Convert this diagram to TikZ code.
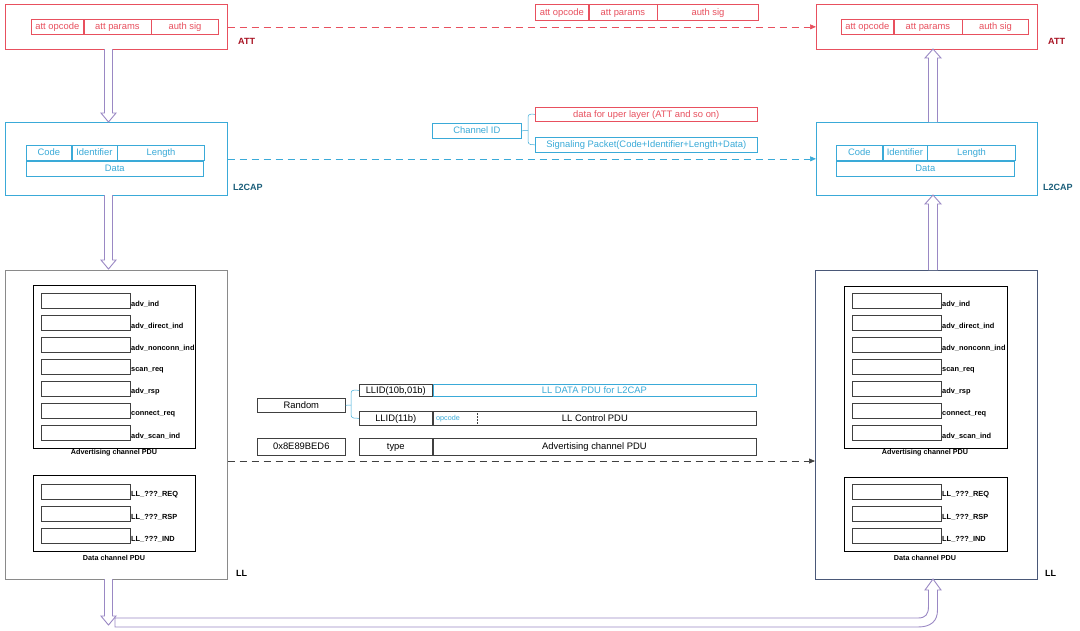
\documentclass[tikz,border=0pt]{standalone}
\usepackage{fontspec}
\setmainfont{Liberation Sans}
\usetikzlibrary{calc,arrows.meta}
\definecolor{attred}{HTML}{E8505E}
\definecolor{attlab}{HTML}{A81020}
\definecolor{l2blue}{HTML}{3AAAD8}
\definecolor{l2lab}{HTML}{1A5E7A}
\definecolor{arrp}{HTML}{9A88C4}
\definecolor{llgrey}{HTML}{8A8A8A}
\definecolor{llnavy}{HTML}{4A5878}
\definecolor{cellk}{HTML}{404040}
\newcommand{\hdown}[2]{\draw[hollow] let \p1=(#1),\p2=(#2) in ({\x1-4pt},{\y1}) -- ({\x1-4pt},{\y2+9pt}) -- ({\x1-7.5pt},{\y2+9pt}) -- (\x2,\y2) -- ({\x1+7.5pt},{\y2+9pt}) -- ({\x1+4pt},{\y2+9pt}) -- ({\x1+4pt},{\y1});}
\newcommand{\hup}[2]{\draw[hollow] let \p1=(#1),\p2=(#2) in ({\x1-4.5pt},{\y1}) -- ({\x1-4.5pt},{\y2-9pt}) -- ({\x1-8pt},{\y2-9pt}) -- (\x2,\y2) -- ({\x1+8pt},{\y2-9pt}) -- ({\x1+4.5pt},{\y2-9pt}) -- ({\x1+4.5pt},{\y1});}
\begin{document}
\begin{tikzpicture}[x=1pt,y=-1pt,
  box/.style={draw, rectangle, anchor=north west, inner sep=0pt, line width=0.7pt},
  cell/.style={draw, rectangle, anchor=north west, inner sep=0pt, line width=0.6pt, text height=6pt, text depth=0pt, font=\fontsize{9.4}{10}\selectfont},
  redcell/.style={cell, draw=attred, text=attred},
  bluecell/.style={cell, draw=l2blue, text=l2blue},
  blkcell/.style={cell, draw=cellk, text=black},
  pdubox/.style={draw=black, line width=1.3pt, rectangle, anchor=north west, inner sep=0pt},
  slot/.style={draw=cellk, line width=0.5pt, rectangle, anchor=north west, inner sep=0pt, minimum width=89pt, minimum height=15pt},
  slotlab/.style={anchor=west, inner sep=0pt, font=\bfseries\fontsize{7.4}{8}\selectfont},
  pdulab/.style={inner sep=0pt, font=\bfseries\fontsize{7.2}{8}\selectfont},
  layerlab/.style={anchor=west, inner sep=0pt, font=\bfseries\fontsize{9}{10}\selectfont},
  hollow/.style={draw=arrp, line width=0.9pt, fill=white, line join=miter},
  dashln/.style={dash pattern=on 7pt off 5pt, line width=0.7pt}
]
\useasboundingbox (0,0) rectangle (1080,630);
\fill[white] (0,0) rectangle (1080,630);

% ---------- ATT ----------
\node[box, draw=attred, minimum width=222pt, minimum height=45pt] (attL) at (5,4) {};
\node[redcell, minimum width=52pt, minimum height=15pt] (aL1) at (31,19) {att opcode};
\node[redcell, minimum width=67pt, minimum height=15pt] (aL2) at (aL1.north east) {att params};
\node[redcell, minimum width=67pt, minimum height=15pt] (aL3) at (aL2.north east) {auth sig};
\node[layerlab, text=attlab] (attLab1) at (238,41) {ATT};

\node[redcell, minimum width=53pt, minimum height=16pt] (aM1) at (535,4) {att opcode};
\node[redcell, minimum width=68pt, minimum height=16pt] (aM2) at (aM1.north east) {att params};
\node[redcell, minimum width=101pt, minimum height=16pt] (aM3) at (aM2.north east) {auth sig};

\node[box, draw=attred, minimum width=221pt, minimum height=45pt] (attR) at (816,4) {};
\node[redcell, minimum width=52pt, minimum height=15pt] (aR1) at (841,19) {att opcode};
\node[redcell, minimum width=68pt, minimum height=15pt] (aR2) at (aR1.north east) {att params};
\node[redcell, minimum width=66pt, minimum height=15pt] (aR3) at (aR2.north east) {auth sig};
\node[layerlab, text=attlab] (attLab2) at (1048,41) {ATT};

\draw[dashln, attred, -{Triangle[length=6pt,width=5pt]}] (attL.east) -- (attR.west);

% ---------- L2CAP ----------
\node[box, draw=l2blue, minimum width=222pt, minimum height=73pt] (l2L) at (5,122) {};
\node[bluecell, minimum width=45pt, minimum height=15pt] (lL1) at (26,145) {Code};
\node[bluecell, minimum width=45pt, minimum height=15pt] (lL2) at (lL1.north east) {Identifier};
\node[bluecell, minimum width=87pt, minimum height=15pt] (lL3) at (lL2.north east) {Length};
\node[bluecell, minimum width=177pt, minimum height=15pt] (lL4) at (lL1.south west) {Data};
\node[layerlab, text=l2lab] (l2Lab1) at (233,187) {L2CAP};

\node[box, draw=l2blue, minimum width=221pt, minimum height=73pt] (l2R) at (816,122) {};
\node[bluecell, minimum width=46pt, minimum height=15pt] (lR1) at (836,145) {Code};
\node[bluecell, minimum width=44pt, minimum height=15pt] (lR2) at (lR1.north east) {Identifier};
\node[bluecell, minimum width=88pt, minimum height=15pt] (lR3) at (lR2.north east) {Length};
\node[bluecell, minimum width=178pt, minimum height=15pt] (lR4) at (lR1.south west) {Data};
\node[layerlab, text=l2lab] (l2Lab2) at (1043,187) {L2CAP};

\node[bluecell, minimum width=89pt, minimum height=15pt] (chid) at (432,123) {Channel ID};
\node[redcell, minimum width=222pt, minimum height=14pt] (upper) at (535,107) {data for uper layer (ATT and so on)};
\node[bluecell, minimum width=222pt, minimum height=15pt] (sig) at (535,137) {Signaling Packet(Code+Identifier+Length+Data)};
\draw[l2blue, line width=0.5pt, rounded corners=3pt] (upper.west) -- (528,114) -- (528,144.5) -- (sig.west);
\draw[l2blue, line width=0.5pt] (chid.east) -- (528,130.5);

\draw[dashln, l2blue, -{Triangle[length=6pt,width=5pt]}] (l2L.east) -- (l2R.west);

% ---------- LL left ----------
\node[box, draw=llgrey, minimum width=222pt, minimum height=309pt] (llL) at (5,270) {};
\node[pdubox, minimum width=162pt, minimum height=163pt] (advL) at (33,285) {};
\foreach \i/\t in {0/adv\_ind,1/adv\_direct\_ind,2/adv\_nonconn\_ind,3/scan\_req,4/adv\_rsp,5/connect\_req,6/adv\_scan\_ind}{
  \node[slot] (sL\i) at (41,{293+22*\i}) {};
  \node[slotlab] (sLt\i) at ({131},{304+22*\i}) {\t};
}
\node[pdulab] (advLt) at (114,453) {Advertising channel PDU};
\node[pdubox, minimum width=162pt, minimum height=76pt] (datL) at (33,475) {};
\foreach \i/\t in {0/LL\_???\_REQ,1/LL\_???\_RSP,2/LL\_???\_IND}{
  \node[slot] (dL\i) at (41,{484+22*\i}) {};
  \node[slotlab] (dLt\i) at (131,{495+22*\i}) {\t};
}
\node[pdulab] (datLt) at (114,558) {Data channel PDU};
\node[layerlab] (llLab1) at (236,573) {LL};

% ---------- LL right ----------
\node[box, draw=llnavy, minimum width=222pt, minimum height=309pt] (llR) at (815,270) {};
\node[pdubox, minimum width=163pt, minimum height=162pt] (advR) at (844,286) {};
\foreach \i/\t in {0/adv\_ind,1/adv\_direct\_ind,2/adv\_nonconn\_ind,3/scan\_req,4/adv\_rsp,5/connect\_req,6/adv\_scan\_ind}{
  \node[slot] (sR\i) at (852,{293+22*\i}) {};
  \node[slotlab] (sRt\i) at (942,{304+22*\i}) {\t};
}
\node[pdulab] (advRt) at (925,453) {Advertising channel PDU};
\node[pdubox, minimum width=163pt, minimum height=74pt] (datR) at (844,477) {};
\foreach \i/\t in {0/LL\_???\_REQ,1/LL\_???\_RSP,2/LL\_???\_IND}{
  \node[slot] (dR\i) at (852,{484+22*\i}) {};
  \node[slotlab] (dRt\i) at (942,{495+22*\i}) {\t};
}
\node[pdulab] (datRt) at (925,558) {Data channel PDU};
\node[layerlab] (llLab2) at (1045,573) {LL};

% ---------- LL middle ----------
\node[blkcell, minimum width=88pt, minimum height=14pt] (rnd) at (257,398) {Random};
\node[blkcell, minimum width=88pt, minimum height=17pt] (aa) at (257,438) {0x8E89BED6};
\node[blkcell, minimum width=73pt, minimum height=12pt] (llid1) at (359,384) {LLID(10b,01b)};
\node[bluecell, minimum width=323pt, minimum height=12pt] (lldata) at (llid1.north east) {LL DATA PDU for L2CAP};
\node[blkcell, minimum width=73pt, minimum height=14pt] (llid2) at (359,411) {LLID(11b)};
\node[blkcell, minimum width=323pt, minimum height=14pt] (llctl) at (llid2.north east) {\hspace*{1pt}LL Control PDU};
\node[inner sep=0pt, text=l2blue, font=\fontsize{7.2}{8}\selectfont] (opc) at (448,418.5) {opcode};
\draw[cellk, line width=0.5pt, dash pattern=on 1.5pt off 1.5pt] (477,413) -- (477,424);
\node[blkcell, minimum width=73pt, minimum height=17pt] (typ) at (359,438) {type};
\node[blkcell, minimum width=323pt, minimum height=17pt] (advpdu) at (typ.north east) {Advertising channel PDU};
\draw[l2blue, line width=0.5pt, rounded corners=3pt] (llid1.west) -- (351,390) -- (351,418) -- (llid2.west);
\draw[l2blue, line width=0.5pt] (rnd.east) -- (351,405);

\coordinate (dashY) at (0,461);
\draw[dashln, cellk, -{Triangle[length=6pt,width=5pt]}] (llL.east |- dashY) -- (llR.west |- dashY);

% ---------- hollow arrows ----------
\coordinate (a1s) at (108.5,49);  \coordinate (a1e) at (108.5,122);
\coordinate (a2s) at (108.5,195); \coordinate (a2e) at (108.5,269);
\coordinate (a3s) at (933,122);   \coordinate (a3e) at (933,49);
\coordinate (a4s) at (933,270);   \coordinate (a4e) at (933,195);
\coordinate (a5s) at (108.5,579); \coordinate (a5e) at (108.5,625);
\hdown{a1s}{a1e}
\hdown{a2s}{a2e}
\hup{a3s}{a3e}
\hup{a4s}{a4e}
\hdown{a5s}{a5e}
\draw[hollow] (115,618) -- (918,618) .. controls (926,618) and (928.5,614) .. (928.5,606) -- (928.5,590) -- (925,590) -- (933,579) -- (941,590) -- (937.5,590) -- (937.5,610) .. controls (937.5,621) and (931,627) .. (918,627) -- (115,627) -- cycle;
\end{tikzpicture}
\end{document}
